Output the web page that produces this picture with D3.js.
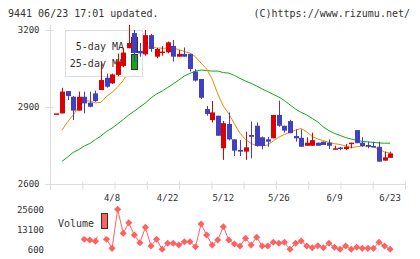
<!DOCTYPE html>
<html>
<head>
<meta charset="utf-8">
<script src="https://cdn.jsdelivr.net/npm/d3@7"></script>
<style>
  body { margin: 0; background: #fff; }
  text { font-family: "DejaVu Sans Mono", monospace; fill: #333; }
</style>
</head>
<body>
<svg id="chart" width="420" height="259"></svg>
<script>
/*
 * Daily candles for 9441 with 5/25-day moving averages and volume.
 */

var dates = ['3/25', '3/26', '3/27', '3/28', '3/31', '4/1', '4/2', '4/3', '4/4', '4/7',
  '4/8', '4/9', '4/10', '4/11', '4/14', '4/15', '4/16', '4/17', '4/18', '4/21',
  '4/22', '4/23', '4/24', '4/25', '4/28', '4/30', '5/1', '5/2', '5/7', '5/8',
  '5/12', '5/13', '5/14', '5/15', '5/16', '5/19', '5/20', '5/21', '5/22', '5/23',
  '5/26', '5/27', '5/28', '5/29', '5/30', '6/2', '6/3', '6/4', '6/5', '6/6',
  '6/9', '6/10', '6/11', '6/12', '6/13', '6/16', '6/17', '6/18', '6/19', '6/20',
  '6/23'];

var opens = [2875, 2875, 2962, 2940, 2886, 2940, 2917, 2953, 2966, 3014,
  2992, 3025, 3060, 3129, 3188, 3118, 3105, 3180, 3096, 3110,
  3113, 3138, 3096, 3107, 3107, 3038, 3009, 2892, 2849, 2866,
  2739, 2834, 2774, 2733, 2726, 2791, 2827, 2782, 2774, 2778,
  2869, 2827, 2845, 2787, 2780, 2749, 2749, 2761, 2765, 2761,
  2736, 2742, 2736, 2759, 2810, 2761, 2752, 2748, 2745, 2691,
  2702];
var highs = [2875, 2975, 2962, 2943, 2960, 2960, 2960, 2964, 3075, 3030,
  3030, 3108, 3130, 3220, 3200, 3149, 3200, 3185, 3130, 3137,
  3155, 3161, 3122, 3132, 3107, 3047, 3009, 2904, 2923, 2866,
  2845, 2879, 2774, 2771, 2804, 2843, 2840, 2785, 2784, 2869,
  2925, 2827, 2850, 2813, 2813, 2782, 2800, 2761, 2765, 2774,
  2749, 2745, 2756, 2761, 2810, 2782, 2765, 2765, 2765, 2726,
  2726];
var lows = [2875, 2875, 2927, 2849, 2886, 2875, 2899, 2920, 2966, 2975,
  2990, 3020, 3055, 3129, 3075, 3096, 3100, 3115, 3090, 3100,
  3109, 3077, 3096, 3096, 3038, 2999, 2931, 2866, 2840, 2788,
  2694, 2770, 2709, 2709, 2694, 2700, 2745, 2735, 2745, 2778,
  2823, 2800, 2798, 2765, 2745, 2749, 2749, 2749, 2752, 2736,
  2735, 2732, 2732, 2739, 2759, 2745, 2739, 2743, 2687, 2691,
  2702];
var closes = [2875, 2960, 2943, 2886, 2940, 2914, 2901, 2923, 3005, 2979,
  3027, 3077, 3112, 3149, 3110, 3109, 3180, 3126, 3126, 3116,
  3152, 3096, 3107, 3096, 3048, 3003, 2936, 2873, 2879, 2788,
  2837, 2774, 2730, 2726, 2743, 2784, 2748, 2748, 2765, 2869,
  2827, 2808, 2798, 2778, 2745, 2761, 2771, 2749, 2752, 2749,
  2739, 2736, 2745, 2761, 2759, 2748, 2745, 2743, 2687, 2704,
  2719];

// moving averages as drawn (null = no value)
var ma5 = [null, 2810, 2842, 2869, 2900, 2925, 2923, 2916, 2918, 2941,
  2957, 2978, 3003, 3040, 3075, 3106, 3134, 3134, 3130, 3129,
  3129, 3129, 3124, 3116, 3110, 3095, 3071, 3048, 3009, 2951,
  2904, 2873, 2834, 2798, 2773, 2758, 2750, 2749, 2752, 2768,
  2783, 2793, 2801, 2810, 2816, 2803, 2785, 2775, 2769, 2762,
  2757, 2754, 2748, 2742, 2745, 2748, 2748, 2745, 2736, 2725,
  2720];
var ma25 = [null, 2688, 2705, 2723, 2734, 2748, 2758, 2773, 2787, 2805,
  2818, 2834, 2851, 2869, 2884, 2900, 2916, 2935, 2951, 2962,
  2976, 2990, 3005, 3021, 3031, 3040, 3044, 3042, 3040, 3040,
  3034, 3032, 3023, 3011, 3001, 2992, 2982, 2970, 2960, 2949,
  2939, 2925, 2908, 2892, 2879, 2869, 2855, 2842, 2822, 2808,
  2797, 2789, 2781, 2775, 2770, 2766, 2764, 2762, 2760, 2759,
  2759];

var volumes = [null, 15000, 13000, 16000, 14500, 6850, 6400, 5600, 14000, 6850,
  1200, 25600, 10600, 17200, 9500, 4700, 14350, 2650, 6850, 600,
  4350, 4350, 3300, 5350, 5350, 2200, 16400, 9500, 3300, 6400,
  14700, 6400, 3900, 2650, 7500, 3300, 8100, 2650, 2650, 5000,
  4350, 5000, 600, 4350, 5800, 2650, 1600, 2850, 1600, 4350,
  1850, 600, 2650, 600, 1850, 1200, 1200, 1200, 5000, 2650,
  600];

var priceTicks = [2600, 2900, 3200];
var volumeTicks = [600, 13100, 25600];
var dateLabels = ['4/8', '4/22', '5/12', '5/26', '6/9', '6/23'];

var upColor = '#dd0000',
  downColor = '#4040c0',
  ma5Color = '#f08c00',
  ma25Color = '#11aa11',
  volColor = '#ff6060',
  axisColor = '#dddddd';

function drawChart() {
  var svg = d3.select('#chart');

  var x = d3.scaleBand().domain(dates).range([53.7, 392.9]);
  var xc = function(d) { return x(d) + x.bandwidth() / 2; };
  var y = d3.scaleLinear().domain([2600, 3200]).range([184, 30]);
  var yv = d3.scaleLinear().domain([600, 25600]).range([249.3, 209.3]);
  var grid = d3.scaleLinear().domain([0, 11]).range([50, 405]);

  // header
  svg.append('text').attr('x', 8).attr('y', 16.5).attr('font-size', 10)
    .text('9441 06/23 17:01 updated.');
  svg.append('text').attr('x', 410).attr('y', 16.5).attr('font-size', 10)
    .attr('text-anchor', 'end')
    .text('(C)https://www.rizumu.net/');

  // Y axis (price)
  var ya = svg.append('g')
    .attr('transform', 'translate(50.5, 0)')
    .call(d3.axisLeft(y).tickValues(priceTicks).tickSize(3).tickPadding(8).tickFormat(d3.format('d')));
  ya.select('.domain').attr('stroke', axisColor).attr('d', 'M0,25V190');
  ya.selectAll('.tick line').attr('stroke', axisColor).attr('x1', -5).attr('x2', 3);
  ya.selectAll('.tick text').attr('font-size', 9).attr('font-family', null).attr('fill', '#333');

  // X axis: evenly spaced tick marks
  var xa = svg.append('g')
    .attr('transform', 'translate(0, 184.5)')
    .call(d3.axisBottom(grid).ticks(11).tickSize(5).tickFormat(''));
  xa.select('.domain').attr('stroke', axisColor).attr('d', 'M45,0H405');
  xa.selectAll('.tick line').attr('stroke', axisColor).attr('y1', -3).attr('y2', 5);

  svg.append('g').selectAll('text')
    .data(dateLabels)
    .enter()
    .append('text')
      .attr('x', function(d) { return xc(d); })
      .attr('y', 200.5)
      .attr('font-size', 9)
      .attr('text-anchor', 'middle')
      .text(function(d) { return d; });

  // moving averages
  var idx = d3.range(dates.length);
  function maLine(arr) {
    return d3.line()
      .defined(function(i) { return arr[i] != null; })
      .x(function(i) { return xc(dates[i]); })
      .y(function(i) { return y(arr[i]); });
  }
  svg.append('path').datum(idx).attr('d', maLine(ma25))
    .attr('fill', 'none').attr('stroke', ma25Color).attr('stroke-width', 1);
  svg.append('path').datum(idx).attr('d', maLine(ma5))
    .attr('fill', 'none').attr('stroke', ma5Color).attr('stroke-width', 1);

  // price legend
  var lg = svg.append('g');
  lg.append('rect').attr('x', 65.5).attr('y', 30.5).attr('width', 77).attr('height', 46)
    .attr('fill', '#fff').attr('stroke', axisColor);
  [['5-day MA', ma5Color, 46], ['25-day MA', ma25Color, 63]].forEach(function(item) {
    lg.append('text').attr('x', 124).attr('y', item[2] + 3.5).attr('font-size', 10)
      .attr('text-anchor', 'end').text(item[0]);
    lg.append('rect').attr('x', 131.5).attr('y', item[2] - 8.5).attr('width', 6).attr('height', 15)
      .attr('fill', item[1]).attr('stroke', '#333');
  });

  // candles
  var cg = svg.append('g').selectAll('g')
    .data(idx)
    .enter()
    .append('g');
  cg.append('line')
    .attr('x1', function(i) { return Math.round(xc(dates[i])) + 0.5; })
    .attr('x2', function(i) { return Math.round(xc(dates[i])) + 0.5; })
    .attr('y1', function(i) { return y(highs[i]); })
    .attr('y2', function(i) { return y(lows[i]); })
    .attr('stroke', function(i) { return closes[i] >= opens[i] ? upColor : downColor; });
  cg.append('rect')
    .attr('x', function(i) { return Math.round(xc(dates[i])) - 2; })
    .attr('width', 5)
    .attr('y', function(i) { return y(Math.max(opens[i], closes[i])); })
    .attr('height', function(i) { return Math.max(1.5, Math.abs(y(opens[i]) - y(closes[i]))); })
    .attr('fill', function(i) { return closes[i] >= opens[i] ? upColor : downColor; });

  // volume
  var vline = d3.line()
    .defined(function(i) { return volumes[i] != null; })
    .x(function(i) { return xc(dates[i]); })
    .y(function(i) { return yv(volumes[i]); });
  svg.append('path').datum(idx).attr('d', vline)
    .attr('fill', 'none').attr('stroke', volColor).attr('stroke-width', 1);
  svg.append('g').selectAll('path')
    .data(idx.filter(function(i) { return volumes[i] != null; }))
    .enter()
    .append('path')
      .attr('d', d3.symbol().type(d3.symbolSquare).size(25))
      .attr('transform', function(i) { return 'translate(' + xc(dates[i]) + ',' + yv(volumes[i]) + ') rotate(45)'; })
      .attr('fill', volColor);

  var va = svg.append('g')
    .attr('transform', 'translate(50, 0)')
    .call(d3.axisLeft(yv).tickValues(volumeTicks).tickSize(0).tickPadding(6).tickFormat(d3.format('d')));
  va.select('.domain').remove();
  va.selectAll('.tick text').attr('font-size', 9).attr('font-family', null).attr('fill', '#333');

  // volume legend
  svg.append('rect').attr('x', 54).attr('y', 206).attr('width', 56).attr('height', 30.5).attr('fill', '#fff');
  svg.append('text').attr('x', 58).attr('y', 226.5).attr('font-size', 10).text('Volume');
  svg.append('rect').attr('x', 101.5).attr('y', 213.5).attr('width', 6).attr('height', 15)
    .attr('fill', volColor).attr('stroke', '#333');
}

drawChart();
</script>
</body>
</html>
